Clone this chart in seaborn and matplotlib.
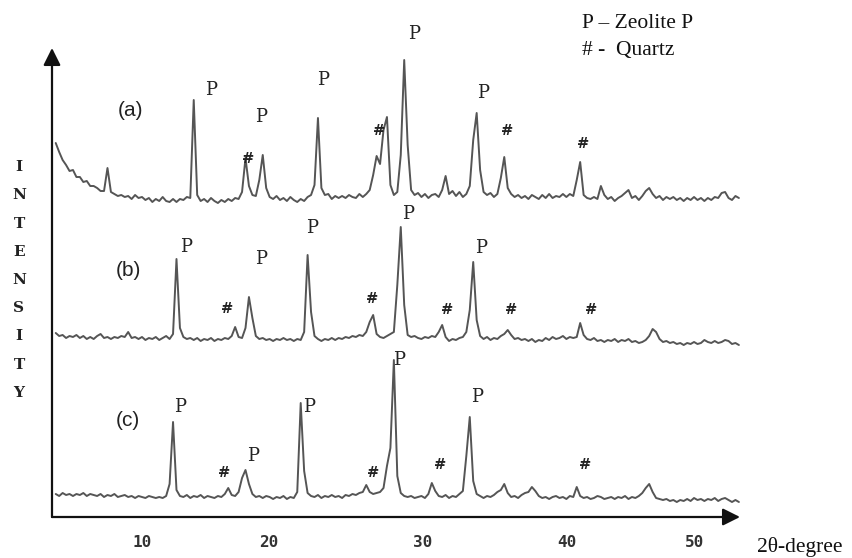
import numpy as np
import pandas as pd
import matplotlib
matplotlib.use("Agg")
import matplotlib.pyplot as plt
import seaborn as sns

# --- XRD scan grid (2theta, degree) ---
TWO_THETA = np.arange(3.75, 53.26, 0.25)

# intensities (a.u., relative to each pattern's baseline)
INT_A = [57, 48, 40, 35, 29, 30, 23, 23, 18, 19,
         14, 14, 12, 9, 9, 32, 8, 6, 4, 5,
         3, 4, 1, 5, 2, 3, 0, 2, -2, 1,
         -1, 3, -1, -2, 1, -2, 1, 0, 3, 2,
         100, 5, -1, 1, -2, 2, -1, -3, 0, -2,
         1, -1, 2, 1, 8, 42, 14, 5, 4, 20,
         45, 12, 3, 1, 4, 0, 2, -1, 3, 0,
         -2, 1, -1, 3, 5, 15, 82, 12, 5, 6,
         1, 4, 2, 4, 2, 5, 3, 2, 6, 3,
         6, 10, 25, 44, 36, 70, 83, 15, 5, 8,
         45, 140, 55, 10, 5, 7, 3, 6, 2, 5,
         6, 3, 10, 24, 6, 9, 4, 8, 3, 6,
         14, 60, 87, 30, 8, 5, 7, 3, 6, 22,
         43, 12, 6, 3, 5, 2, 4, 1, 5, 3,
         1, 5, 2, 6, 2, 4, 3, 6, 3, 6,
         4, 20, 38, 5, 2, 1, 3, 1, 14, 5,
         1, 3, -1, 2, 4, 7, 10, 2, 4, 0,
         4, 9, 12, 6, 2, 4, 0, 3, 1, 3,
         0, 2, -1, 2, 0, 3, 0, 2, -1, 2,
         0, 3, 2, 7, 8, 2, 0, 4, 2]

INT_B = [7, 4, 5, 2, 4, 3, 5, 2, 4, 1,
         3, 1, 4, 6, 2, 3, 1, 3, 2, 4,
         3, 8, 2, 3, 1, 3, 0, 2, 1, 3,
         0, 2, 4, 1, 6, 81, 12, 3, 1, 2,
         0, 2, -1, 1, 0, 2, -1, 1, 0, 2,
         1, 4, 13, 3, 2, 12, 43, 22, 4, 1,
         2, 0, 1, -1, 1, 0, 2, 0, 1, -1,
         1, 0, 8, 85, 28, 4, 1, -1, 1, 0,
         2, 0, 2, 1, 3, 2, 4, 3, 5, 4,
         8, 18, 25, 6, 3, 2, 4, 6, 8, 55,
         113, 35, 5, 3, 4, 2, 1, 3, 2, 4,
         3, 8, 15, 3, -1, 1, 0, 2, 3, 8,
         30, 78, 20, 4, 1, 3, 0, 2, 1, 4,
         6, 10, 5, 1, 2, 0, 1, -1, 1, -2,
         0, -1, 2, 0, 3, 1, 2, 4, 1, 3,
         2, 3, 17, 5, 1, 0, 2, -1, 0, -2,
         0, -1, 1, -2, 0, -1, 1, -2, -1, -3,
         -2, 0, 4, 11, 8, 1, -2, -1, -3, -2,
         -4, -3, -5, -3, -4, -2, -4, -3, 0, -2,
         -3, -1, -3, -2, 0, -1, -4, -3, -5]

INT_C = [2, 0, 3, 1, 2, 0, 2, 1, 3, 0,
         2, 1, 0, 2, -1, 1, 0, 2, -1, 0,
         1, -1, 0, -2, 0, -1, -2, 0, -1, -2,
         -1, -2, 0, 12, 74, 6, 0, -1, 1, -2,
         0, -1, 1, -2, 0, -1, -2, 0, -1, 2,
         8, 1, 0, 4, 18, 26, 12, 2, -1, 0,
         -2, 0, -1, -3, -1, -2, 0, -3, -1, -2,
         4, 93, 25, 3, 0, -1, 1, -2, 0, -1,
         1, -1, 0, -2, 1, 0, 2, 1, 3, 4,
         11, 4, 2, 3, 4, 8, 30, 48, 136, 20,
         3, 0, -1, 0, -2, -1, 0, -2, 2, 13,
         5, 0, -1, 1, -2, 0, -1, 2, 5, 40,
         79, 15, 2, 0, -2, 0, -1, 1, 4, 6,
         12, 3, -1, 0, -2, 1, 3, 4, 9, 5,
         0, -2, -1, -3, -1, 0, -2, -1, -3, 0,
         -1, 9, 0, -2, -1, -3, -2, 0, -1, -3,
         -2, -1, -3, -1, -2, 0, -3, -1, -2, 0,
         3, 8, 12, 4, -2, -3, -4, -3, -5, -4,
         -6, -4, -5, -3, -5, -2, -4, -3, -5, -3,
         -4, -2, -5, -3, -2, -4, -6, -4, -6]

SAMPLES = ["(a)", "(b)", "(c)"]
OFFSETS = [358, 218, 62]

TICK_LABELS = ["10", "20", "30", "40", "50"]

# peak markers: (2theta, y, symbol)
MARKS = [
    (15.00, 468, "P"), (17.68, 399, "#"), (18.62, 441, "P"), (23.12, 478, "P"),
    (27.17, 427, "#"), (29.71, 524, "P"), (34.71, 465, "P"), (36.45, 427, "#"),
    (41.96, 414, "#"),
    (13.19, 311, "P"), (16.16, 249, "#"), (18.62, 299, "P"), (22.32, 330, "P"),
    (26.67, 259, "#"), (29.28, 344, "P"), (32.10, 248, "#"), (34.57, 310, "P"),
    (36.74, 248, "#"), (42.54, 248, "#"),
    (12.75, 151, "P"), (15.94, 85, "#"), (18.04, 102, "P"), (22.10, 151, "P"),
    (26.74, 85, "#"), (28.62, 198, "P"), (31.59, 93, "#"), (34.28, 161, "P"),
    (42.10, 93, "#"),
]
SAMPLE_POS = [(9.2, 447), (9.0, 288), (9.0, 138)]

sns.set_theme(style="white")
plt.rcParams['font.family'] = ['DejaVu Sans']

frames = []
for name, off, vals in zip(SAMPLES, OFFSETS, [INT_A, INT_B, INT_C]):
    frames.append(pd.DataFrame({"two_theta": TWO_THETA,
                                "intensity": np.array(vals) + off,
                                "sample": name}))
df = pd.concat(frames, ignore_index=True)

fig = plt.figure(figsize=(8.53, 5.58), dpi=100)
ax = fig.add_axes([52 / 853, 41 / 558, 688 / 853, 469 / 558])

sns.lineplot(data=df, x="two_theta", y="intensity", hue="sample", units="sample",
             estimator=None, palette=["#555555"] * 3, legend=False, lw=1.4, ax=ax)

ax.set_xlim(3.48, 53.33)
ax.set_ylim(41, 510)
for s in ax.spines.values():
    s.set_visible(False)

arrow = dict(arrowstyle='-|>', color='#111111', lw=1.6, mutation_scale=26,
             shrinkA=0, shrinkB=0)
ax.annotate('', xy=(1, 0), xytext=(0, 0), xycoords='axes fraction',
            textcoords='axes fraction', arrowprops=arrow)
ax.annotate('', xy=(0, 1), xytext=(0, 0), xycoords='axes fraction',
            textcoords='axes fraction', arrowprops=arrow)

ax.set_xticks([10, 19.2, 30.36, 40.8, 50])
ax.set_xticklabels(TICK_LABELS, fontfamily='DejaVu Sans Mono', fontweight='bold',
                   fontsize=11.5, color='#333333')
ax.tick_params(axis='x', length=0, pad=13)
ax.set_yticks([])
ax.set_xlabel("")
ax.set_ylabel("")

for x, y, sym in MARKS:
    if sym == "P":
        ax.text(x, y, sym, ha='center', va='center', fontsize=13,
                family='DejaVu Serif', color='#222222')
    else:
        ax.text(x, y, sym, ha='center', va='center', fontsize=10.5,
                family='DejaVu Serif', fontweight='bold', color='#222222')

for (x, y), name in zip(SAMPLE_POS, SAMPLES):
    ax.text(x, y, name, ha='center', va='center', fontsize=15,
            family='Liberation Sans', color='#222222')

# stacked axis title
for k, ch in enumerate("INTENSITY"):
    fig.text(19 / 853, 1 - (167 + 28.25 * k) / 558, ch, ha='center', va='center',
             fontsize=11, family='DejaVu Serif', fontweight='bold', color='#222222')

fig.text(582 / 853, 1 - 23 / 558, "P \u2013 Zeolite P", ha='left', va='center',
         fontsize=15.5, family='Liberation Serif', color='#111111')
fig.text(582 / 853, 1 - 51 / 558, "# -  Quartz", ha='left', va='center',
         fontsize=15.5, family='Liberation Serif', color='#111111')
fig.text(757 / 853, 1 - 547 / 558, "2\u03b8-degree", ha='left', va='center',
         fontsize=15.5, family='Liberation Serif', color='#111111')

fig.savefig("out.png", dpi=100)
